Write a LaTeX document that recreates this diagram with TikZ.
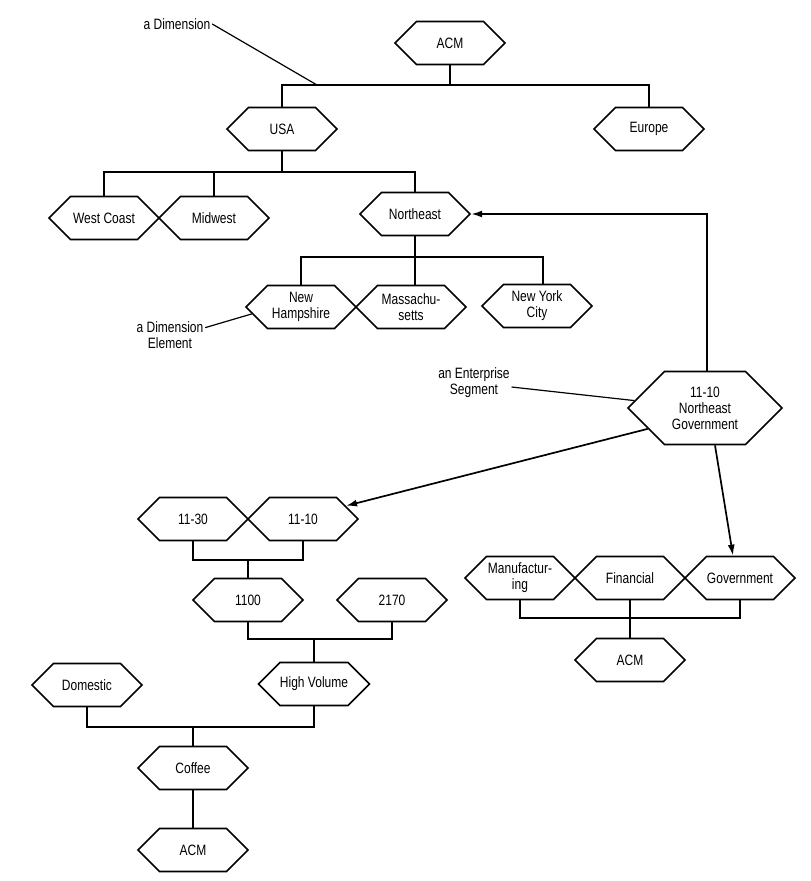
\documentclass[tikz,border=0pt]{standalone}
\usepackage{fontspec}
\setmainfont{Liberation Sans}[FakeStretch=0.8]
\usetikzlibrary{shapes.symbols,arrows.meta}

\begin{document}
\begin{tikzpicture}[
    x=1pt, y=-1pt,
    line width=1.7pt,
    hexa/.style={signal, signal to=east and west, draw, minimum width=110pt,
                 minimum height=43pt, inner sep=0pt, align=center,
                 font=\fontsize{15}{16}\selectfont},
    bighexa/.style={hexa, minimum width=154pt, minimum height=73pt},
    annot/.style={inner sep=1pt, align=center, font=\fontsize{15}{16}\selectfont},
    arr/.style={-{Latex[length=11pt,width=7pt]}}
]
\useasboundingbox (0,0) rectangle (811,881);

% ================= dimension : ACM / regions =================

\node[hexa] (acmtop)  at (450,43)  {ACM};
\node[hexa] (usa)     at (282,129) {USA};
\node[hexa] (europe)  at (649,129) {Europe};

\node[hexa] (west)    at (104,218) {West Coast};
\node[hexa] (midwest) at (214,218) {Midwest};
\node[hexa] (neast)   at (415,214) {Northeast};

\node[hexa] (newhamp) at (301,307) {New\\Hampshire};
\node[hexa] (mass)    at (411,307) {Massachu-\\setts};
\node[hexa] (nyc)     at (537,306) {New York\\City};

\coordinate (bus1) at (450,85);
\coordinate (bus2) at (282,172);
\coordinate (bus3) at (413,257);

\draw (usa.north) |- (bus1) -| (europe.north);
\draw (acmtop.south) -- (bus1);

\draw (west.north) |- (bus2) -| (neast.north);
\draw (usa.south) -- (bus2);
\draw (midwest.north) -- (midwest.north |- bus2);

\draw (newhamp.north) |- (bus3) -| ([xshift=6pt]nyc.north);
\draw (neast.south) -- (neast.south |- mass.north);

% ================= enterprise segment =================

\node[bighexa] (segment) at (705,408) {11-10\\Northeast\\Government};

\draw[arr] ([xshift=2pt]segment.north) |- (neast.east);

% ================= 11-30 / 11-10 =================

\node[hexa] (s1130)   at (193,519) {11-30};
\node[hexa] (s1110)   at (303,519) {11-10};
\node[hexa] (n1100)   at (248,600) {1100};
\node[hexa] (n2170)   at (392,600) {2170};
\node[hexa] (highvol) at (314,684) {High Volume};
\node[hexa] (domestic) at (87,685) {Domestic};
\node[hexa] (coffee)  at (193,768) {Coffee};
\node[hexa] (acmlow)  at (193,850) {ACM};

\coordinate (bus4) at (248,560);
\coordinate (bus5) at (314,639);
\coordinate (bus6) at (193,727);

\draw (s1130.south) |- (bus4) -| (s1110.south);
\draw (bus4) -- (n1100.north);

\draw (n1100.south) |- (bus5) -| (n2170.south);
\draw (bus5) -- (highvol.north);

\draw (domestic.south) |- (bus6) -| (highvol.south);
\draw (bus6) -- (coffee.north);
\draw (coffee.south) -- (acmlow.north);

\draw[arr] (segment.200) -- (s1110.17);

% ================= industries =================

\node[hexa] (manuf)     at (520,578) {Manufactur-\\ing};
\node[hexa] (financial) at (630,578) {Financial};
\node[hexa] (govt)      at (740,578) {Government};
\node[hexa] (acmright)  at (630,660) {ACM};

\coordinate (bus7) at (630,618);

\draw (manuf.south) |- (bus7) -| (govt.south);
\draw (financial.south) -- (acmright.north);

\draw[arr] ([xshift=10pt]segment.south) -- ([xshift=-7pt]govt.north);

% ================= annotations =================

\node[annot] (dimlabel) at (177,24) {a Dimension};
\node[annot] (elemlabel) at (170,335) {a Dimension\\Element};
\node[annot] (seglabel) at (474,383) {an Enterprise\\Segment};

\coordinate (dimpt) at (317,85);

\draw[line width=1.2pt] (dimlabel.east) -- (dimpt);
\draw[line width=1.2pt] ([yshift=-8pt]elemlabel.north east) -- (newhamp.188);
\draw[line width=1.2pt] ([yshift=-4pt]seglabel.east) -- (segment.174);

\end{tikzpicture}
\end{document}
